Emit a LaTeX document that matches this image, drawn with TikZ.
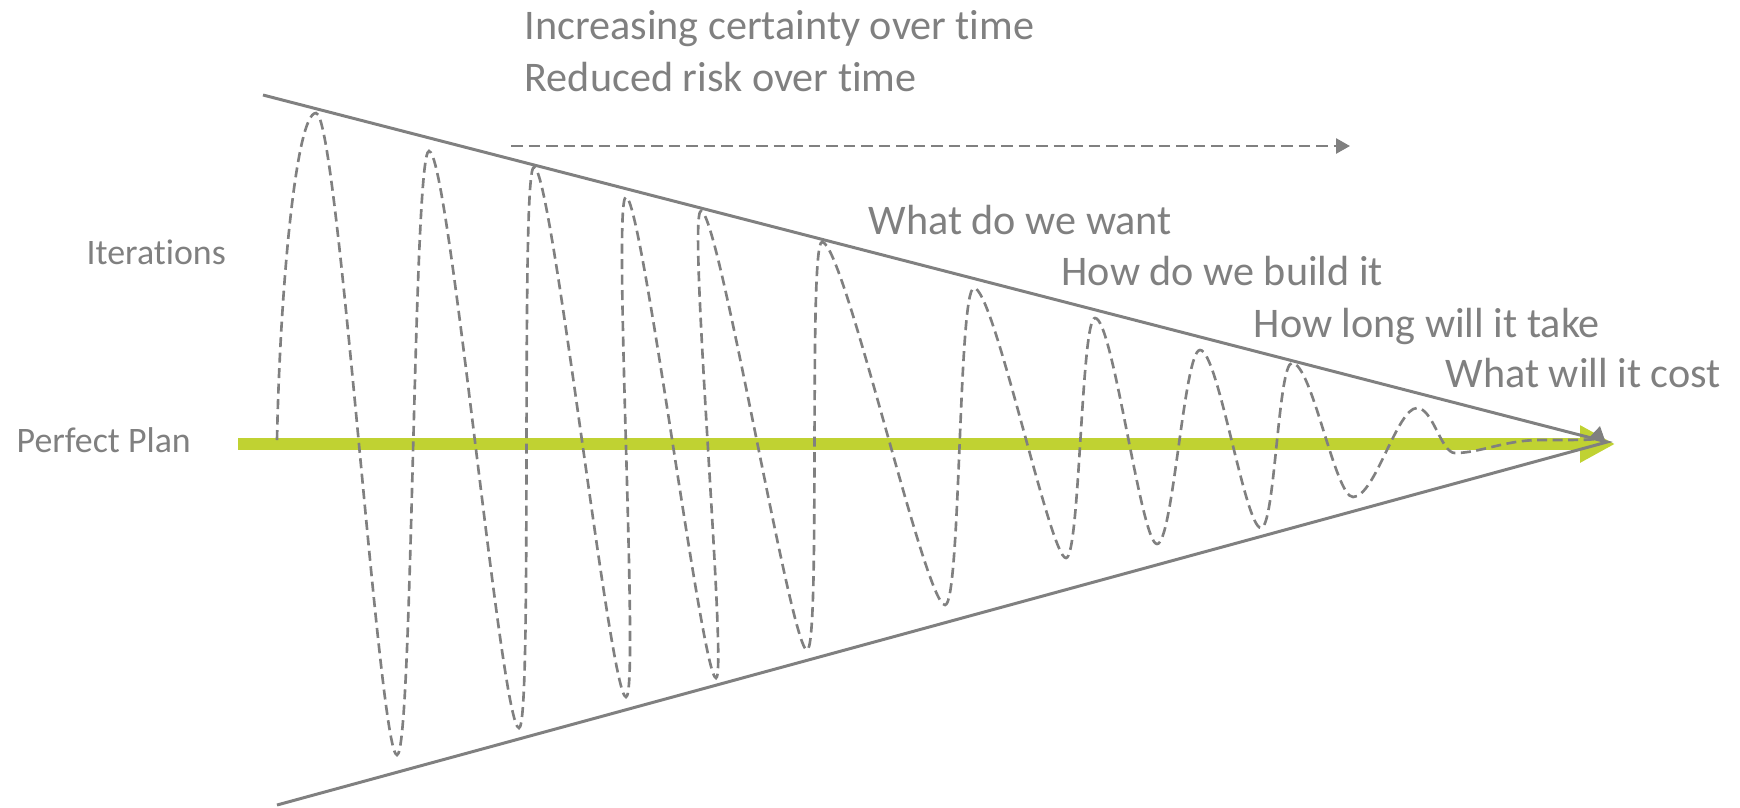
\documentclass[tikz,border=0pt]{standalone}
\usepackage{fontspec}
\setmainfont{Carlito}[Ligatures=CommonOff]
\usepackage{tikz}
\usetikzlibrary{positioning,arrows.meta}

\definecolor{planGreen}{RGB}{192,210,50}
\definecolor{coneGray}{RGB}{128,128,128}

\tikzset{
  cone/.style={draw=coneGray, line width=0.85pt},
  plan/.style={draw=planGreen, line width=1.2mm, -{Triangle[length=3.5mm,width=3.5mm]}},
  wave/.style={draw=coneGray, line width=0.75pt, dash pattern=on 1mm off 0.55mm,
    -{Triangle[length=1.3mm,width=1.5mm]}},
  trend/.style={draw=coneGray, line width=0.75pt, dash pattern=on 1.15mm off 0.6mm,
    -{Triangle[length=1.4mm,width=1.5mm]}},
  lbl/.style={text=coneGray, inner sep=0pt, anchor=base west, font=\fontsize{12}{14}\selectfont},
  sidelbl/.style={text=coneGray, inner sep=0pt, anchor=base west, font=\fontsize{10.2}{12}\selectfont},
}

\begin{document}
\begin{tikzpicture}[x=0.1mm, y=-0.1mm]
  \useasboundingbox (0,0) rectangle (1740,807);

  % Punti del cono
  \coordinate (top) at (263,95);
  \coordinate (bot) at (277,805);
  \coordinate (apex) at (1607,442);
  \coordinate (planA) at (238,444);
  \coordinate (planB) at (1615,444);
  \coordinate (trendA) at (511,146);
  \coordinate (trendB) at (1350,146);

  % Piano perfetto
  \draw[plan] (planA) -- (planB);

  % Cono
  \draw[cone] (top) -- (apex) -- (bot);

  % Iterazioni
  \draw[wave] (277,440)
    .. controls +(3,-150) and +(-20,0) .. (316,113)
    .. controls +(22,0) and +(-18,0) .. (397,755)
    .. controls +(16,0) and +(-16,0) .. (429,151)
    .. controls +(20,0) and +(-18,0) .. (519,728)
    .. controls +(14,0) and +(-14,0) .. (534,167)
    .. controls +(18,0) and +(-16,0) .. (626,697)
    .. controls +(14,0) and +(-14,0) .. (626,197)
    .. controls +(16,0) and +(-14,0) .. (716,678)
    .. controls +(12,0) and +(-14,0) .. (701,211)
    .. controls +(18,0) and +(-16,0) .. (807,650)
    .. controls +(14,0) and +(-14,0) .. (822,242)
    .. controls +(22,0) and +(-20,0) .. (945,605)
    .. controls +(16,0) and +(-16,0) .. (974,288)
    .. controls +(20,0) and +(-16,0) .. (1066,558)
    .. controls +(14,0) and +(-14,0) .. (1095,318)
    .. controls +(18,0) and +(-16,0) .. (1157,544)
    .. controls +(16,0) and +(-16,0) .. (1200,350)
    .. controls +(18,0) and +(-16,0) .. (1261,528)
    .. controls +(14,0) and +(-14,0) .. (1292,363)
    .. controls +(20,0) and +(-18,0) .. (1353,497)
    .. controls +(22,0) and +(-20,0) .. (1417,408)
    .. controls +(16,0) and +(-14,0) .. (1455,453)
    .. controls +(25,0) and +(-35,0) .. (1540,440)
    .. controls +(40,0) and +(-3,14) .. (1600,426);

  % Freccia del tempo
  \draw[trend] (trendA) -- (trendB);

  % Testi
  \node[lbl] (certainty) at (524,39) {Increasing certainty over time};
  \node[lbl] (risk) at (524,91) {Reduced risk over time};
  \node[lbl] (want) at (868,234) {What do we want};
  \node[lbl] (build) at (1061,285) {How do we build it};
  \node[lbl] (long) at (1253,337) {How long will it take};
  \node[lbl] (cost) at (1445,387) {What will it cost};
  \node[sidelbl] (iter) at (86,264) {Iterations};
  \node[sidelbl] (perfect) at (16,452) {Perfect Plan};
\end{tikzpicture}
\end{document}
